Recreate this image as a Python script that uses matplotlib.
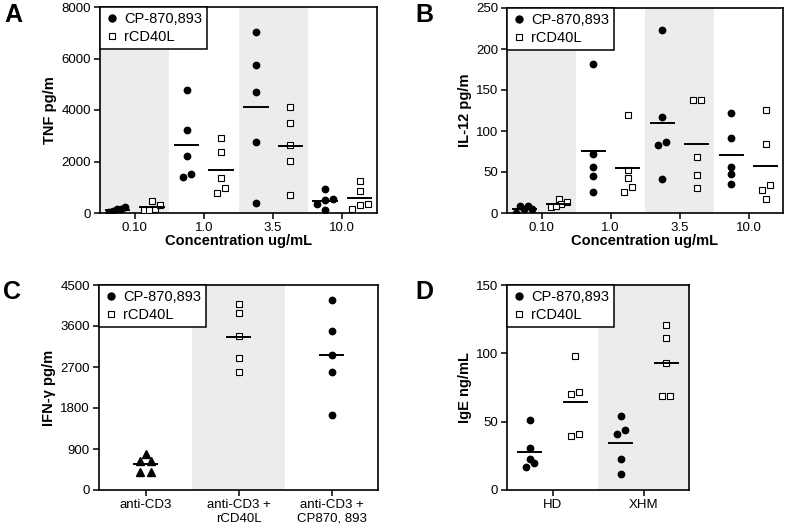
import numpy as np
import matplotlib

matplotlib.use("Agg")
import matplotlib.pyplot as plt
from matplotlib.lines import Line2D

plt.rcParams["font.family"] = ["Liberation Sans", "DejaVu Sans"]

SHADE = "#ececec"

# panel A: TNF pg/m
conc_labels = ["0.10", "1.0", "3.5", "10.0"]
tnf_cp = [
    [140, 230, 40, 160, 90],
    [4780, 3220, 2220, 1400, 1530],
    [7030, 5730, 4680, 2740, 400],
    [920, 550, 490, 360, 100],
]
tnf_rcd = [
    [170, 450, 300, 100, 110],
    [2900, 2350, 1360, 780, 990],
    [4130, 3480, 2650, 2030, 690],
    [1260, 840, 360, 170, 300],
]

# panel B: IL-12 pg/m
il12_cp = [
    [5, 8.5, 0.5, 8.5, 4.5],
    [182, 72.5, 56, 45, 25.5],
    [223.5, 117, 83, 41, 87],
    [121.5, 92, 56, 47, 35],
]
il12_rcd = [
    [17, 11, 13, 7.5, 9],
    [119, 53, 42.5, 25.5, 32],
    [138, 138, 68.5, 46, 31],
    [125.5, 84, 34.5, 27.5, 16.5],
]

# panel C: IFN-gamma pg/m
ifn_labels = ["anti-CD3", "anti-CD3 +\nrCD40L", "anti-CD3 +\nCP870, 893"]
ifn_cd3 = [790, 640, 640, 400, 400]
ifn_rcd = [4080, 3880, 3380, 2900, 2590]
ifn_cp = [4170, 3500, 2960, 2580, 1650]

# panel D: IgE ng/mL
ige_labels = ["HD", "XHM"]
ige_cp = [[51, 30.5, 23, 19.5, 16.5], [54, 41, 44, 23, 11.5]]
ige_rcd = [[98, 72, 70, 39.5, 41], [121, 111, 93, 69, 69]]


def row_offsets(ax, values, thresh_px=6.0, step_px=8.0, span_px=16.0):
    # GraphPad-like scatter: near-equal values share a row, centred on the column
    tr = ax.transData
    ypx = [tr.transform((0, v))[1] for v in values]
    px_per_x = tr.transform((1, 0))[0] - tr.transform((0, 0))[0]
    order = sorted(range(len(values)), key=lambda i: ypx[i])
    rows = []
    for i in order:
        if rows and ypx[i] - ypx[rows[-1][0]] < thresh_px:
            rows[-1].append(i)
        else:
            rows.append([i])
    offsets = [0.0] * len(values)
    for row in rows:
        n = len(row)
        if n == 1:
            continue
        step = min(step_px, span_px / (n - 1))
        for j, i in enumerate(row):
            offsets[i] = (j - (n - 1) / 2) * step / px_per_x
    return np.array(offsets)


def draw_group(ax, xc, values, marker, half=0.17):
    if marker == "o":
        xs = xc + row_offsets(ax, values)
        ax.plot(xs, values, "o", color="black", ms=4.6, ls="none", zorder=3)
    elif marker == "^":
        xs = xc + row_offsets(ax, values, step_px=11.0, span_px=22.0)
        ax.plot(xs, values, "^", color="black", ms=5.6, ls="none", zorder=3)
    else:
        xs = xc + row_offsets(ax, values)
        ax.plot(xs, values, "s", mfc="white", mec="black", mew=0.8,
                ms=4.0, ls="none", zorder=3)
    m = np.mean(values)
    ax.plot([xc - half, xc + half], [m, m], color="black", lw=1.4, zorder=4)


def style_axes(ax):
    for s in ax.spines.values():
        s.set_linewidth(1.2)
    ax.tick_params(direction="out", length=4, width=1.1, labelsize=9.5, pad=2.5)


def add_legend(ax):
    handles = [
        Line2D([], [], marker="o", color="black", ls="none", ms=5),
        Line2D([], [], marker="s", mfc="white", mec="black", mew=0.8, ls="none", ms=4.5),
    ]
    leg = ax.legend(handles, ["CP-870,893", "rCD40L"], loc="upper left",
                    borderaxespad=0, fontsize=10.5, handletextpad=0.3,
                    handlelength=1.0, borderpad=0.35, labelspacing=0.25,
                    fancybox=False, framealpha=1)
    leg.get_frame().set_edgecolor("black")
    leg.get_frame().set_linewidth(1.1)
    leg.set_zorder(5)


fig = plt.figure(figsize=(7.89, 5.30), dpi=100)
W, H = 789, 530


def make_axes(l, r, t, b):
    return fig.add_axes([l / W, (H - b) / H, (r - l) / W, (b - t) / H])


def conc_panel(ax, cp, rcd, ymax, yticks, ylabel):
    ax.set_xlim(0, 4)
    ax.set_ylim(0, ymax)
    for i in (0, 2):
        ax.axvspan(i, i + 1, color=SHADE, lw=0, zorder=0)
    for i in range(4):
        draw_group(ax, i + 0.25, cp[i], "o")
        draw_group(ax, i + 0.75, rcd[i], "s")
    ax.set_xticks([i + 0.5 for i in range(4)])
    ax.set_xticklabels(conc_labels)
    ax.set_yticks(yticks)
    ax.set_ylabel(ylabel, fontweight="bold", fontsize=10.5, labelpad=3)
    ax.set_xlabel("Concentration ug/mL", fontweight="bold", fontsize=10.5, labelpad=0)
    style_axes(ax)
    add_legend(ax)


ax_a = make_axes(100, 377, 7, 213)
conc_panel(ax_a, tnf_cp, tnf_rcd, 8000, range(0, 8001, 2000), "TNF pg/m")

ax_b = make_axes(507, 783, 8, 213)
conc_panel(ax_b, il12_cp, il12_rcd, 250, range(0, 251, 50), "IL-12 pg/m")

# panel C
ax_c = make_axes(99, 378, 285, 490)
ax_c.set_xlim(0, 3)
ax_c.set_ylim(0, 4500)
ax_c.axvspan(1, 2, color=SHADE, lw=0, zorder=0)
draw_group(ax_c, 0.5, ifn_cd3, "^", half=0.12)
draw_group(ax_c, 1.5, ifn_rcd, "s", half=0.12)
draw_group(ax_c, 2.5, ifn_cp, "o", half=0.12)
ax_c.set_xticks([0.5, 1.5, 2.5])
ax_c.set_xticklabels(ifn_labels)
ax_c.set_yticks(range(0, 4501, 900))
ax_c.set_ylabel("IFN-\u03b3 pg/m", fontweight="bold", fontsize=10.5, labelpad=3)
style_axes(ax_c)
add_legend(ax_c)

# panel D
ax_d = make_axes(507, 689, 285, 490)
ax_d.set_xlim(0, 2)
ax_d.set_ylim(0, 150)
ax_d.axvspan(1, 2, color=SHADE, lw=0, zorder=0)
for i in range(2):
    draw_group(ax_d, i + 0.25, ige_cp[i], "o", half=0.125)
    draw_group(ax_d, i + 0.75, ige_rcd[i], "s", half=0.125)
ax_d.set_xticks([0.5, 1.5])
ax_d.set_xticklabels(ige_labels)
ax_d.set_yticks([0, 50, 100, 150])
ax_d.set_ylabel("IgE ng/mL", fontweight="bold", fontsize=10.5, labelpad=3)
style_axes(ax_d)
add_legend(ax_d)

for letter, x, y in [("A", 13, 15), ("B", 424, 15), ("C", 12, 292), ("D", 424, 292)]:
    fig.text(x / W, 1 - y / H, letter, fontsize=18, fontweight="bold",
             ha="center", va="center")

fig.savefig("out.png", dpi=100)
